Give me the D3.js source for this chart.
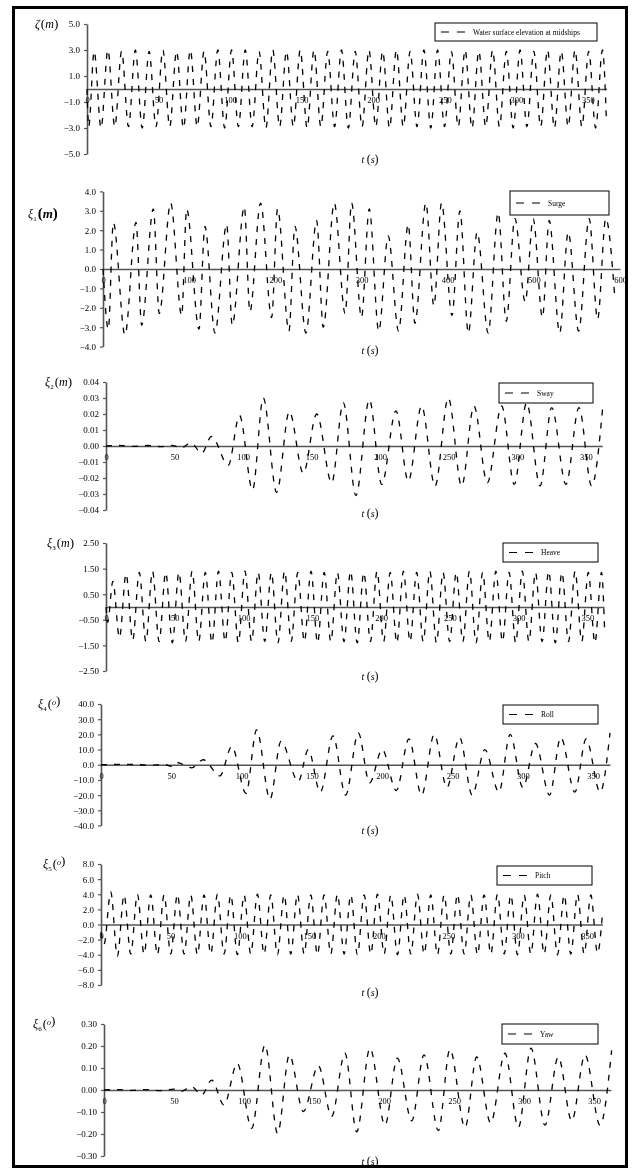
<!DOCTYPE html>
<html>
<head>
<meta charset="utf-8">
<script src="https://cdn.jsdelivr.net/npm/d3@7"></script>
<style>
  body { margin: 0; background: #fff; }
  svg { display: block; filter: grayscale(1); }
  text { font-family: "Liberation Serif", "Times New Roman", serif; fill: #000; }
</style>
</head>
<body>
<svg id="fig" width="639" height="1171"></svg>
<script>
// Time histories: each series is a list of [t (s), value] turning points.
const zeta = [[0,0],[1.2,-2.9],[5.0,2.9],[9.8,-3.0],[14.6,3.0],[19.4,-2.9],[24.2,2.9],[29.0,-2.9],[33.8,3.0],[38.6,-3.0],[43.4,2.9],[48.2,-2.9],[53.0,3.0],[57.8,-2.9],[62.6,2.9],[67.4,-3.0],[72.2,3.0],[77.0,-2.9],[81.8,2.9],[86.6,-2.9],[91.4,3.0],[96.2,-3.0],[101.0,3.0],[105.8,-2.9],[110.6,3.0],[115.4,-2.9],[120.2,2.9],[125.0,-3.0],[129.8,3.0],[134.6,-2.9],[139.4,2.9],[144.2,-2.9],[149.0,3.0],[153.8,-3.0],[158.6,3.0],[163.4,-2.9],[168.2,2.9],[173.0,-2.9],[177.8,3.0],[182.6,-3.0],[187.4,2.9],[192.2,-2.9],[197.0,3.0],[201.8,-2.9],[206.6,2.9],[211.4,-3.0],[216.2,3.0],[221.0,-2.9],[225.8,2.9],[230.6,-2.9],[235.4,3.0],[240.2,-3.0],[245.0,3.0],[249.8,-2.9],[254.6,2.9],[259.4,-2.9],[264.2,3.0],[269.0,-3.0],[273.8,2.9],[278.6,-2.9],[283.4,3.0],[288.2,-2.9],[293.0,2.9],[297.8,-3.0],[302.6,3.0],[307.4,-2.9],[312.2,2.9],[317.0,-2.9],[321.8,3.0],[326.6,-3.0],[331.4,2.9],[336.2,-2.9],[341.0,3.0],[345.8,-2.9],[350.6,2.9],[355.4,-3.0],[360.2,3.0],[363.0,-2.6]];

const surge = [[0,0],[6.2,-3.1],[12.0,2.4],[25.5,-3.4],[38.3,2.4],[44.9,-2.9],[58.4,3.1],[65.3,-2.3],[78.5,3.4],[91.3,-2.4],[97.1,3.1],[111.4,-3.1],[118.3,2.2],[129.9,-3.3],[143.5,2.3],[150,-2.9],[164,3.2],[170.5,-2.2],[182.9,3.4],[195.7,-2.5],[202.6,3.1],[215.8,-3.2],[222.7,2.2],[235.5,-3.3],[247.9,2.5],[255.6,-3.0],[268.4,3.4],[281,-2.3],[288.5,3.4],[300,-2.5],[309,3.1],[320,-3.2],[331,1.7],[343,-3.2],[354.2,2.3],[362,-2.8],[374.7,3.4],[384,-1.9],[392.9,3.4],[405,-2.4],[414.2,3.0],[424,-3.3],[434.2,1.9],[447,-3.3],[458.6,2.9],[468,-2.7],[478,2.6],[490,-1.7],[499.2,2.6],[510,-2.5],[517.8,2.5],[530,-3.3],[539.9,1.9],[552,-3.2],[564.2,2.6],[574,-2.6],[583.5,2.6],[594,-1.5]];

const sway = [[0,0],[10,0.0003],[20,-0.0002],[30,0.0003],[40,-0.0004],[48,0.0004],[55,-0.0012],[62,0.002],[69.8,-0.0045],[77,0.006],[89.2,-0.012],[97.4,0.019],[106.9,-0.0275],[114.7,0.030],[124.5,-0.029],[133.7,0.0215],[143.9,-0.017],[153.7,0.020],[164.6,-0.023],[173.1,0.027],[182.3,-0.031],[192.1,0.029],[201.1,-0.024],[211.5,0.022],[220.5,-0.022],[230.2,0.025],[240,-0.025],[249.7,0.030],[259.4,-0.025],[268.4,0.025],[278.1,-0.023],[288.6,0.025],[297.8,-0.024],[306.8,0.027],[316.6,-0.025],[325.1,0.024],[335.5,-0.024],[345,0.024],[354.2,-0.025],[362.3,0.024]];

const heave = [[0,0],[1.2,-0.6],[5.0,1.0],[9.8,-1.2],[14.6,1.3],[19.4,-1.3],[24.2,1.35],[29.0,-1.35],[33.8,1.4],[38.6,-1.35],[43.4,1.35],[48.2,-1.4],[53.0,1.35],[57.8,-1.35],[62.6,1.4],[67.4,-1.35],[72.2,1.35],[77.0,-1.4],[81.8,1.4],[86.6,-1.35],[91.4,1.35],[96.2,-1.4],[101.0,1.4],[105.8,-1.35],[110.6,1.35],[115.4,-1.35],[120.2,1.35],[125.0,-1.4],[129.8,1.4],[134.6,-1.35],[139.4,1.35],[144.2,-1.35],[149.0,1.4],[153.8,-1.4],[158.6,1.35],[163.4,-1.35],[168.2,1.35],[173.0,-1.35],[177.8,1.4],[182.6,-1.4],[187.4,1.35],[192.2,-1.35],[197.0,1.4],[201.8,-1.35],[206.6,1.35],[211.4,-1.4],[216.2,1.4],[221.0,-1.35],[225.8,1.35],[230.6,-1.35],[235.4,1.4],[240.2,-1.4],[245.0,1.35],[249.8,-1.35],[254.6,1.35],[259.4,-1.35],[264.2,1.4],[269.0,-1.4],[273.8,1.35],[278.6,-1.35],[283.4,1.4],[288.2,-1.35],[293.0,1.35],[297.8,-1.4],[302.6,1.4],[307.4,-1.35],[312.2,1.35],[317.0,-1.35],[321.8,1.4],[326.6,-1.4],[331.4,1.35],[336.2,-1.35],[341.0,1.4],[345.8,-1.35],[350.6,1.35],[355.4,-1.4],[360.2,1.35],[362.5,-1.0]];

const roll = [[0,0],[20,0.3],[35,-0.3],[45,0.2],[50,-1.0],[53.8,1.5],[64.5,-2.0],[72.8,3.3],[84.6,-7.3],[93,12],[103.1,-18.8],[110.7,23],[120.2,-22.7],[128,15.4],[140.3,-11],[147.4,9.9],[156,-18],[165,19],[174,-20],[183,21],[191,-12],[200,10],[210,-17],[219,17],[228,-20],[237,20],[246,-15],[255,18],[264,-20],[273,10],[283,-18],[291,20],[300,-15],[309,14],[319,-20],[327,18],[337,-18],[345,17],[355,-18],[362,21]];

const pitch = [[0,-1.0],[2.2,-2.6],[7.0,4.3],[11.8,-4.2],[16.6,3.9],[21.4,-3.9],[26.2,4.0],[31.0,-3.9],[35.8,3.9],[40.6,-4.0],[45.4,3.9],[50.2,-3.9],[55.0,4.0],[59.8,-3.9],[64.6,3.9],[69.4,-4.0],[74.2,3.9],[79.0,-3.9],[83.8,4.0],[88.6,-3.9],[93.4,3.9],[98.2,-4.0],[103.0,3.9],[107.8,-3.9],[112.6,4.0],[117.4,-3.9],[122.2,3.9],[127.0,-4.0],[131.8,3.9],[136.6,-3.9],[141.4,4.0],[146.2,-3.9],[151.0,3.9],[155.8,-4.0],[160.6,3.9],[165.4,-3.9],[170.2,4.0],[175.0,-3.9],[179.8,3.9],[184.6,-4.0],[189.4,3.9],[194.2,-3.9],[199.0,4.0],[203.8,-3.9],[208.6,3.9],[213.4,-4.0],[218.2,3.9],[223.0,-3.9],[227.8,4.0],[232.6,-3.9],[237.4,3.9],[242.2,-4.0],[247.0,3.9],[251.8,-3.9],[256.6,4.0],[261.4,-3.9],[266.2,3.9],[271.0,-4.0],[275.8,3.9],[280.6,-3.9],[285.4,4.0],[290.2,-3.9],[295.0,3.9],[299.8,-4.0],[304.6,3.9],[309.4,-3.9],[314.2,4.0],[319.0,-3.9],[323.8,3.9],[328.6,-4.0],[333.4,3.9],[338.2,-3.9],[343.0,4.0],[347.8,-3.9],[352.6,3.9],[357.4,-3.8],[361.0,1.5]];

const yaw = [[0,0],[10,0.002],[20,-0.002],[30,0.002],[40,-0.003],[50,0.004],[55,-0.006],[62.6,0.015],[69.8,-0.023],[76.9,0.045],[85.7,-0.068],[95.2,0.121],[105.5,-0.174],[115,0.205],[124,-0.197],[132.4,0.159],[142.4,-0.098],[153.1,0.11],[162.6,-0.12],[172.1,0.167],[180.5,-0.19],[190,0.19],[200.7,-0.16],[209.5,0.145],[219.8,-0.14],[228.6,0.16],[238.8,-0.185],[247.1,0.185],[257.9,-0.17],[266.2,0.15],[276.2,-0.15],[286.4,0.167],[296,-0.17],[305,0.19],[315,-0.16],[324.5,0.15],[334.1,-0.14],[343.6,0.16],[354.3,-0.16],[362.6,0.18]];

// Axis ticks
const ticks350 = [0, 50, 100, 150, 200, 250, 300, 350];
const ticks600 = [0, 100, 200, 300, 400, 500, 600];
const zetaTicks = [5, 3, 1, -1, -3, -5];
const surgeTicks = [4, 3, 2, 1, 0, -1, -2, -3, -4];
const swayTicks = [0.04, 0.03, 0.02, 0.01, 0, -0.01, -0.02, -0.03, -0.04];
const heaveTicks = [2.5, 1.5, 0.5, -0.5, -1.5, -2.5];
const rollTicks = [40, 30, 20, 10, 0, -10, -20, -30, -40];
const pitchTicks = [8, 6, 4, 2, 0, -2, -4, -6, -8];
const yawTicks = [0.3, 0.2, 0.1, 0, -0.1, -0.2, -0.3];

const legendNames = ["Water surface elevation at midships", "Surge", "Sway", "Heave", "Roll", "Pitch", "Yaw"];

// Panel layout
const panels = [
  { data: zeta,  xMax: 363, xTicks: ticks350, yMax: 5,    yTicks: zetaTicks,  fmt: ".1f", px: [87, 606.5], py: [24, 154],   lg: [435, 23, 597, 41],   sym: "ζ", sub: "",  unit: "m", lab: [35, 28], tl: 163 },
  { data: surge, xMax: 600, xTicks: ticks600, yMax: 4,    yTicks: surgeTicks, fmt: ".1f", px: [103, 620],  py: [191.4, 346.6], lg: [510, 191, 609, 215], sym: "ξ", sub: "1", unit: "m", lab: [28, 218], tl: 354, bold: true },
  { data: sway,  xMax: 362, xTicks: ticks350, yMax: 0.04, yTicks: swayTicks,  fmt: ".2f", px: [106, 602.3], py: [382, 510],  lg: [499, 383, 593, 403], sym: "ξ", sub: "2", unit: "m", lab: [45, 386], tl: 517 },
  { data: heave, xMax: 362, xTicks: ticks350, yMax: 2.5,  yTicks: heaveTicks, fmt: ".2f", px: [106, 604],  py: [543, 671],   lg: [503, 543, 598, 562], sym: "ξ", sub: "3", unit: "m", lab: [47, 547], tl: 680 },
  { data: roll,  xMax: 362, xTicks: ticks350, yMax: 40,   yTicks: rollTicks,  fmt: ".1f", px: [101, 610],  py: [704, 825.5], lg: [503, 705, 598, 724], sym: "ξ", sub: "4", unit: "o", lab: [38, 708], tl: 834 },
  { data: pitch, xMax: 361, xTicks: ticks350, yMax: 8,    yTicks: pitchTicks, fmt: ".1f", px: [101, 602.5], py: [864, 985], lg: [497, 866, 592, 885], sym: "ξ", sub: "5", unit: "o", lab: [43, 868], tl: 996 },
  { data: yaw,   xMax: 362, xTicks: ticks350, yMax: 0.3,  yTicks: yawTicks,   fmt: ".2f", px: [104, 610.8], py: [1024, 1156], lg: [502, 1024, 598, 1044], sym: "ξ", sub: "6", unit: "o", lab: [33, 1028], tl: 1165 }
];

const svg = d3.select("#fig");

// Outer frame
svg.append("rect").attr("x", 13.5).attr("y", 7.5).attr("width", 613).attr("height", 1159)
  .attr("fill", "none").attr("stroke", "#000").attr("stroke-width", 3);

panels.forEach((p, i) => {
  const x = d3.scaleLinear().domain([0, p.xMax]).range(p.px);
  const y = d3.scaleLinear().domain([-p.yMax, p.yMax]).range([p.py[1], p.py[0]]);
  const g = svg.append("g");

  // y axis
  const ya = g.append("g").attr("transform", `translate(${p.px[0]},0)`)
    .call(d3.axisLeft(y).tickValues(p.yTicks).tickSize(3).tickSizeOuter(0).tickPadding(4).tickFormat(d3.format(p.fmt)));
  ya.select(".domain").attr("stroke", "#555").attr("stroke-width", 1.6);
  ya.selectAll(".tick line").attr("stroke", "#555").attr("stroke-width", 1.2);
  ya.selectAll(".tick text").style("font-size", "9px").style("font-family", "Liberation Serif, serif").style("fill", "#000");

  // x axis along zero line, labels below it
  const xa = g.append("g").attr("transform", `translate(0,${y(0)})`)
    .call(d3.axisBottom(x).tickValues(p.xTicks).tickSize(0).tickSizeOuter(0).tickPadding(8).tickFormat(d3.format("d")));
  xa.select(".domain").attr("stroke", "#555").attr("stroke-width", 1.6);
  xa.selectAll(".tick text").style("font-size", "8.5px").style("font-family", "Liberation Serif, serif").style("fill", "#000");

  // series
  const line = d3.line().x(d => x(d[0])).y(d => y(d[1])).curve(d3.curveMonotoneX);
  g.append("path").datum(p.data).attr("d", line)
    .attr("fill", "none").attr("stroke", "#000").attr("stroke-width", 1.3)
    .attr("stroke-dasharray", "6,7");

  // legend
  const [lx0, ly0, lx1, ly1] = p.lg;
  g.append("rect").attr("x", lx0).attr("y", ly0).attr("width", lx1 - lx0).attr("height", ly1 - ly0)
    .attr("fill", "#fff").attr("stroke", "#000").attr("stroke-width", 1);
  const lc = (ly0 + ly1) / 2;
  g.append("line").attr("x1", lx0 + 6).attr("x2", lx0 + 30).attr("y1", lc).attr("y2", lc)
    .attr("stroke", "#000").attr("stroke-width", 1.2).attr("stroke-dasharray", "8,8");
  g.append("text").attr("x", lx0 + 38).attr("y", lc + 2.5).style("font-size", "7.5px").text(legendNames[i]);

  // y label
  const t = g.append("text").attr("x", p.lab[0]).attr("y", p.lab[1]).style("font-size", "12px");
  t.append("tspan").style("font-style", "italic").text(p.sym);
  if (p.sub) t.append("tspan").attr("dy", 3).style("font-size", "7px").text(p.sub);
  t.append("tspan").attr("dy", p.sub ? -3 : 0).attr("dx", 1).style("font-size", p.bold ? "15px" : "13px").style("font-weight", p.bold ? "bold" : "normal").text("(");
  if (p.unit === "m") {
    t.append("tspan").style("font-style", "italic").style("font-weight", p.bold ? "bold" : "normal").style("font-size", p.bold ? "13px" : "12px").text("m");
  } else {
    t.append("tspan").attr("dy", -3).style("font-style", "italic").style("font-size", "8px").text("o");
    t.append("tspan").attr("dy", 3).text("");
  }
  t.append("tspan").style("font-size", p.bold ? "15px" : "13px").style("font-weight", p.bold ? "bold" : "normal").text(")");

  // time label
  const tt = g.append("text").attr("x", 370).attr("y", p.tl).attr("text-anchor", "middle").style("font-size", "10px");
  tt.append("tspan").style("font-style", "italic").text("t ");
  tt.append("tspan").style("font-size", "12px").text("(");
  tt.append("tspan").style("font-style", "italic").text("s");
  tt.append("tspan").style("font-size", "12px").text(")");
});
</script>
</body>
</html>
